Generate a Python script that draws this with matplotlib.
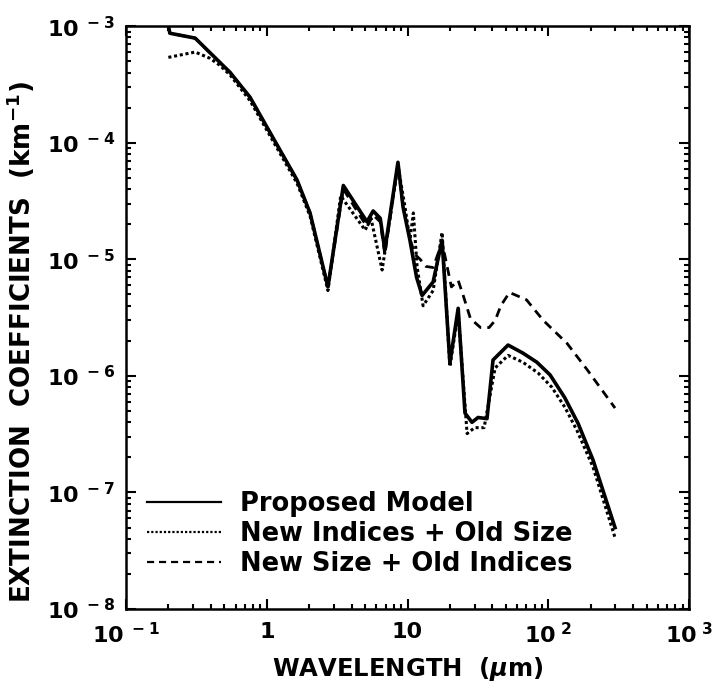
import matplotlib
matplotlib.use("Agg")
import matplotlib.pyplot as plt
from matplotlib.ticker import FixedLocator, FixedFormatter, LogLocator, NullFormatter

plt.rcParams['font.family'] = ['DejaVu Sans']
plt.rcParams['font.weight'] = 'bold'
plt.rcParams['mathtext.fontset'] = 'custom'
plt.rcParams['mathtext.rm'] = 'DejaVu Sans:bold'
plt.rcParams['mathtext.bf'] = 'DejaVu Sans:bold'
plt.rcParams['mathtext.it'] = 'DejaVu Sans:bold:italic'

# proposed model
wl_model = [0.2, 0.205, 0.31, 0.55, 0.76, 1.1, 1.64, 2.03, 2.72, 3.5, 5.15, 5.7,
            6.4, 6.9, 8.55, 9.3, 10.4, 11.6, 12.7, 15.2, 17.6, 20.0, 22.9, 25.6,
            28.7, 31.7, 36.7, 40.5, 51.8, 66.0, 83.0, 103.0, 131.0, 163.0, 208.0, 298.0]
ext_model = [1.0e-3, 8.7e-4, 7.9e-4, 4.0e-4, 2.46e-4, 1.12e-4, 4.8e-5, 2.5e-5, 5.8e-6,
             4.3e-5, 2.1e-5, 2.6e-5, 2.25e-5, 1.2e-5, 6.8e-5, 2.8e-5, 1.46e-5, 7.0e-6,
             4.9e-6, 6.4e-6, 1.46e-5, 1.29e-6, 3.8e-6, 4.8e-7, 4.0e-7, 4.4e-7, 4.3e-7,
             1.37e-6, 1.84e-6, 1.57e-6, 1.31e-6, 1.02e-6, 6.5e-7, 3.9e-7, 1.9e-7, 5.0e-8]

# new indices + old size
wl_new_idx = [0.2, 0.31, 0.395, 0.466, 0.55, 0.76, 1.1, 1.64, 2.03, 2.72, 3.35, 5.0,
              5.5, 6.6, 8.55, 9.6, 10.4, 11.0, 11.7, 12.9, 15.2, 17.6, 20.0, 22.9,
              26.5, 30.0, 35.0, 41.9, 51.8, 66.0, 84.6, 106.0, 131.0, 160.0, 208.0, 298.0]
ext_new_idx = [5.4e-4, 6.0e-4, 5.3e-4, 4.6e-4, 3.8e-4, 2.3e-4, 1.05e-4, 4.5e-5, 2.35e-5,
               5.4e-6, 3.5e-5, 1.78e-5, 2.25e-5, 8.1e-6, 6.4e-5, 2.8e-5, 1.46e-5, 2.5e-5,
               8.6e-6, 4.0e-6, 5.4e-6, 1.7e-5, 1.2e-6, 3.5e-6, 3.2e-7, 3.6e-7, 3.6e-7,
               1.17e-6, 1.5e-6, 1.31e-6, 1.06e-6, 8.0e-7, 5.4e-7, 3.4e-7, 1.65e-7, 4.1e-8]

# new size + old indices
wl_new_size = [0.2, 0.205, 0.31, 0.55, 0.76, 1.1, 1.64, 2.03, 2.72, 3.5, 5.15, 5.7,
               6.4, 6.9, 8.55, 9.3, 10.4, 11.3, 12.3, 13.5, 15.2, 17.6, 20.5, 22.9,
               25.0, 28.0, 33.0, 38.0, 42.0, 46.0, 53.0, 70.0, 92.0, 136.0, 190.0, 298.0]
ext_new_size = [1.0e-3, 8.7e-4, 7.9e-4, 4.0e-4, 2.46e-4, 1.12e-4, 4.8e-5, 2.5e-5, 5.8e-6,
                4.0e-5, 1.9e-5, 2.4e-5, 2.1e-5, 1.1e-5, 6.6e-5, 2.8e-5, 1.5e-5, 1.1e-5,
                1.0e-5, 8.7e-6, 8.5e-6, 1.4e-5, 5.8e-6, 6.6e-6, 4.8e-6, 3.1e-6, 2.6e-6,
                2.6e-6, 3.0e-6, 4.0e-6, 5.2e-6, 4.5e-6, 3.0e-6, 1.9e-6, 1.12e-6, 5.3e-7]

series_labels = ["Proposed Model", "New Indices + Old Size", "New Size + Old Indices"]

x_ticks = [1e-1, 1, 10, 1e2, 1e3]
x_ticklabels = [r"10$^{\ -1}$", "1", "10", r"10$^{\ 2}$", r"10$^{\ 3}$"]
y_ticks = [1e-8, 1e-7, 1e-6, 1e-5, 1e-4, 1e-3]
y_ticklabels = [r"10$^{\ -8}$", r"10$^{\ -7}$", r"10$^{\ -6}$",
                r"10$^{\ -5}$", r"10$^{\ -4}$", r"10$^{\ -3}$"]

fig = plt.figure(figsize=(7.2, 6.89), dpi=100)
ax = fig.add_axes([0.175, 0.116, 0.782, 0.846])

ax.plot(wl_new_size, ext_new_size, color="black", lw=2.0, ls=(0, (3.2, 2.2)),
        label=series_labels[2], zorder=2)
ax.plot(wl_new_idx, ext_new_idx, color="black", lw=2.2, ls=(0, (1.0, 0.9)),
        label=series_labels[1], zorder=3)
ax.plot(wl_model, ext_model, color="black", lw=2.6, ls="-",
        label=series_labels[0], zorder=4)

ax.set_xscale("log")
ax.set_yscale("log")
ax.set_xlim(1e-1, 1e3)
ax.set_ylim(1e-8, 1e-3)

ax.xaxis.set_major_locator(FixedLocator(x_ticks))
ax.xaxis.set_major_formatter(FixedFormatter(x_ticklabels))
ax.yaxis.set_major_locator(FixedLocator(y_ticks))
ax.yaxis.set_major_formatter(FixedFormatter(y_ticklabels))
ax.xaxis.set_minor_locator(LogLocator(base=10, subs=range(2, 10), numticks=20))
ax.yaxis.set_minor_locator(LogLocator(base=10, subs=range(2, 10), numticks=20))
ax.xaxis.set_minor_formatter(NullFormatter())
ax.yaxis.set_minor_formatter(NullFormatter())

ax.tick_params(which="both", direction="in", top=True, right=True, width=1.5, color="black")
ax.tick_params(which="major", length=7)
ax.tick_params(which="minor", length=3.8)
ax.tick_params(axis="x", which="major", labelsize=16, pad=9)
ax.tick_params(axis="y", which="major", labelsize=16, pad=8)
for sp in ax.spines.values():
    sp.set_linewidth(1.8)

ax.set_xlabel(r"WAVELENGTH  ($\mu$m)", fontsize=17.5, fontweight="bold", labelpad=6)
ax.set_ylabel(r"EXTINCTION  COEFFICIENTS  (km$^{-1}$)", fontsize=18.8,
              fontweight="bold")
ax.yaxis.set_label_coords(-0.158, 0.458)

handles, labels = ax.get_legend_handles_labels()
leg = ax.legend(handles[::-1], labels[::-1], loc="lower left", frameon=False,
                fontsize=18.5, handlelength=2.9, handletextpad=0.75, labelspacing=0.16,
                borderaxespad=0.4, bbox_to_anchor=(0.0, 0.02))
for line in leg.get_lines():
    line.set_linewidth(1.6)

fig.savefig("out.png", dpi=100)
